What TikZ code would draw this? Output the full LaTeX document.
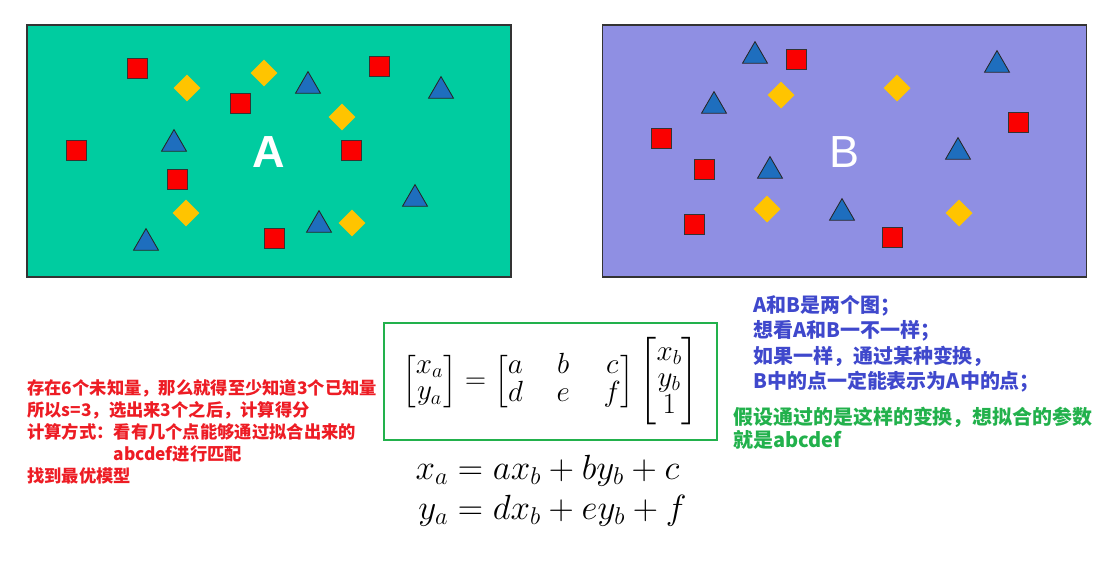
\documentclass[tikz,border=0pt]{standalone}
\usepackage{amsmath}
\usepackage{fontspec}
\newfontfamily\cjk{Noto Sans CJK SC}
\newfontfamily\lab{Liberation Sans}
\usetikzlibrary{shapes.geometric}

\definecolor{tealA}{RGB}{0,204,160}
\definecolor{lilacB}{RGB}{143,143,227}
\definecolor{sqred}{RGB}{250,0,0}
\definecolor{diayel}{RGB}{255,196,0}
\definecolor{triblue}{RGB}{30,110,190}
\definecolor{txtred}{RGB}{237,28,36}
\definecolor{txtblue}{RGB}{63,72,204}
\definecolor{txtgreen}{RGB}{34,177,76}

\begin{document}
\begin{tikzpicture}[
  x=0.025cm, y=-0.025cm,
  panel/.style={
    draw=black!80,
    line width=1pt,
    minimum width=12.1cm,
    minimum height=6.3cm,
    inner sep=0pt
  },
  redsq/.style={
    rectangle,
    draw=black!80,
    fill=sqred,
    line width=0.6pt,
    minimum size=0.5cm,
    inner sep=0pt
  },
  yeldia/.style={
    diamond,
    fill=diayel,
    minimum size=0.68cm,
    inner sep=0pt
  },
  bluetri/.style={
    regular polygon,
    regular polygon sides=3,
    draw=black!85,
    fill=triblue,
    line width=0.6pt,
    minimum size=0.72cm,
    inner sep=0pt
  },
  letter/.style={
    text=white,
    font=\lab\fontsize{32}{36}\selectfont
  },
  note/.style={
    anchor=north west,
    align=left,
    inner sep=0pt
  },
  eqbox/.style={
    draw=txtgreen,
    line width=2pt,
    minimum width=8.325cm,
    minimum height=2.925cm,
    inner sep=0pt,
    font=\fontsize{22}{22}\selectfont
  }
]

\path[use as bounding box] (0,0) rectangle (1110,561);

% panel A
\node[panel, fill=tealA] (panA) at (269,151) {};
\node[letter, font=\lab\bfseries\fontsize{32}{36}\selectfont] (labA) at (269,152) {A};
\node[redsq] (a1) at (137,68) {};
\node[redsq] (a2) at (240,103) {};
\node[redsq] (a3) at (379,66) {};
\node[redsq] (a4) at (76,150) {};
\node[redsq] (a5) at (177,179) {};
\node[redsq] (a6) at (351,150) {};
\node[redsq] (a7) at (274,238) {};
\node[yeldia] (a8) at (187,88) {};
\node[yeldia] (a9) at (264,73) {};
\node[yeldia] (a10) at (342,117) {};
\node[yeldia] (a11) at (186,213) {};
\node[yeldia] (a12) at (352,223) {};
\node[bluetri] (a13) at (308,86) {};
\node[bluetri] (a14) at (441,91) {};
\node[bluetri] (a15) at (174,144) {};
\node[bluetri] (a16) at (415,199) {};
\node[bluetri] (a17) at (319,225) {};
\node[bluetri] (a18) at (146,243) {};

% panel B
\node[panel, fill=lilacB] (panB) at (844.5,151) {};
\node[letter] (labB) at (844,152) {B};
\node[redsq] (b1) at (796,59) {};
\node[redsq] (b2) at (1018,122) {};
\node[redsq] (b3) at (661,138) {};
\node[redsq] (b4) at (704,169) {};
\node[redsq] (b5) at (694,224) {};
\node[redsq] (b6) at (892,237) {};
\node[yeldia] (b7) at (781,95) {};
\node[yeldia] (b8) at (897,88) {};
\node[yeldia] (b9) at (767,209) {};
\node[yeldia] (b10) at (959,213) {};
\node[bluetri] (b11) at (755,56) {};
\node[bluetri] (b12) at (997,65) {};
\node[bluetri] (b13) at (714,106) {};
\node[bluetri] (b14) at (770,171) {};
\node[bluetri] (b15) at (958,152) {};
\node[bluetri] (b16) at (842,213) {};

% notes
\node[note, text=txtred, font=\cjk\bfseries\fontsize{12.3}{15.6}\selectfont] (steps) at (27,379)
  {存在6个未知量，那么就得至少知道3个已知量\\
   所以s=3，选出来3个之后，计算得分\\
   计算方式：看有几个点能够通过拟合出来的\\
   \hspace*{5em}abcdef进行匹配\\
   找到最优模型};
\node[note, text=txtblue, font=\cjk\bfseries\fontsize{14.2}{18.1}\selectfont] (idea) at (753,295)
  {A和B是两个图；\\
   想看A和B一不一样；\\
   如果一样，通过某种变换，\\
   B中的点一定能表示为A中的点；};
\node[note, text=txtgreen, font=\cjk\bfseries\fontsize{14.2}{16.4}\selectfont] (param) at (733,407)
  {假设通过的是这样的变换，想拟合的参数\\
   就是abcdef};

% equations
\node[eqbox] (mateq) at (550.5,381.5)
  {\setlength{\arraycolsep}{12pt}\renewcommand{\arraystretch}{0.85}%
   $\begin{bmatrix}x_a\\y_a\end{bmatrix}
   =\begin{bmatrix}a&b&c\\d&e&f\end{bmatrix}
   \begin{bmatrix}x_b\\y_b\\1\end{bmatrix}$};
\node[font=\fontsize{24}{24}\selectfont, inner sep=0pt] (expand) at (551,492)
  {$\begin{aligned}x_a&=ax_b+by_b+c\\y_a&=dx_b+ey_b+f\end{aligned}$};

\end{tikzpicture}
\end{document}
